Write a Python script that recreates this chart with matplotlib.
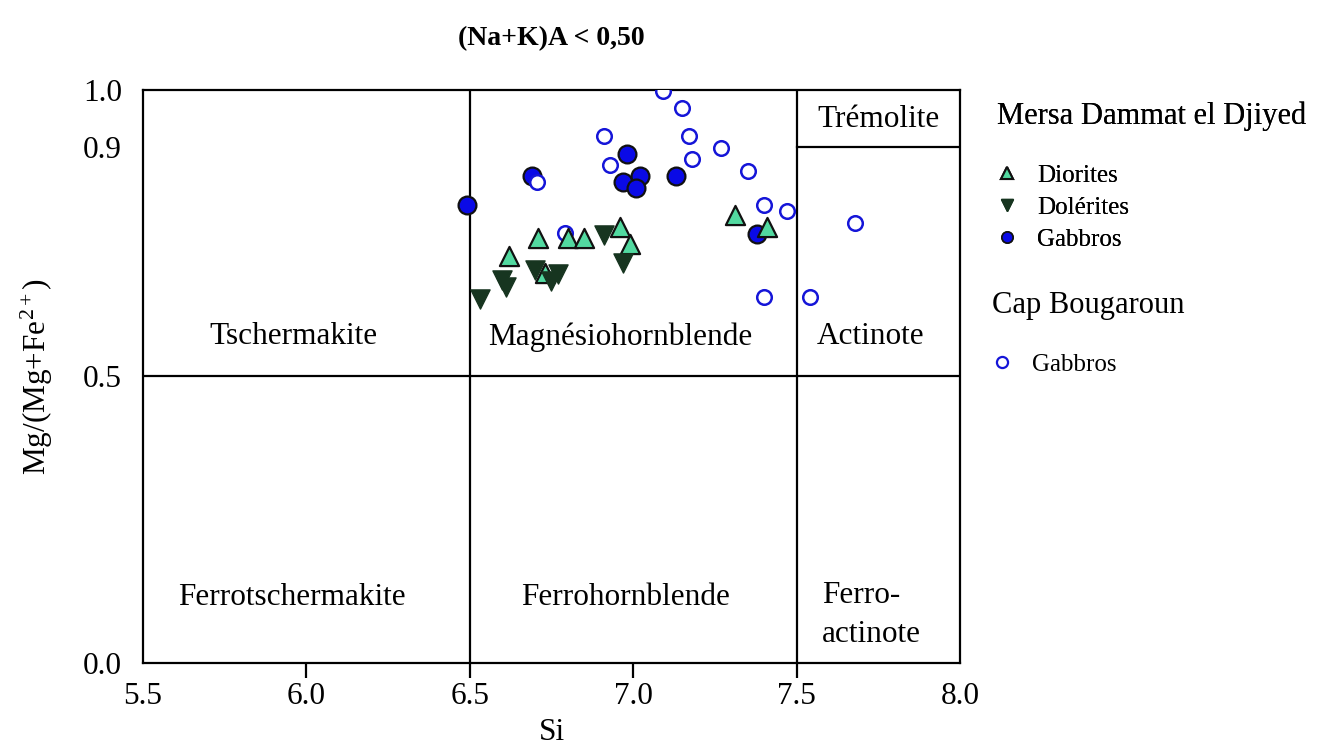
import numpy as np
import matplotlib
matplotlib.use("Agg")
import matplotlib.pyplot as plt
from matplotlib.lines import Line2D

plt.rcParams['font.family'] = ['Liberation Serif', 'DejaVu Serif']
plt.rcParams['mathtext.fontset'] = 'custom'
plt.rcParams['mathtext.rm'] = 'Liberation Serif'
plt.rcParams['mathtext.it'] = 'Liberation Serif:italic'

# Mersa Dammat el Djiyed
dio_si = [6.71, 6.80, 6.85, 6.62, 6.73, 6.96, 6.99, 7.31, 7.41]
dio_mg = [0.741, 0.741, 0.741, 0.710, 0.681, 0.761, 0.731, 0.781, 0.761]

dol_si = [6.53, 6.60, 6.61, 6.70, 6.75, 6.77, 6.91, 6.97]
dol_mg = [0.636, 0.668, 0.657, 0.686, 0.666, 0.678, 0.747, 0.698]

gab_si = [6.49, 6.69, 6.98, 6.97, 7.02, 7.01, 7.13, 7.38]
gab_mg = [0.799, 0.849, 0.889, 0.839, 0.849, 0.829, 0.849, 0.749]

# Cap Bougaroun
cap_si = [7.09, 7.15, 6.91, 7.17, 6.93, 7.18, 6.705, 6.79, 7.27, 7.35,
          7.40, 7.47, 7.68, 7.40, 7.54]
cap_mg = [0.999, 0.969, 0.919, 0.919, 0.869, 0.879, 0.840, 0.750, 0.899, 0.859,
          0.799, 0.789, 0.768, 0.638, 0.638]

x_ticks = [5.5, 6.0, 6.5, 7.0, 7.5, 8.0]
y_ticks = [0.0, 0.5, 0.9, 1.0]

fig = plt.figure(figsize=(13.2, 7.51), dpi=100)
ax = fig.add_axes([0.1083, 0.1172, 0.6190, 0.7630])

lw = 1.6
ax.axvline(6.5, color='black', lw=lw, zorder=1)
ax.axvline(7.5, color='black', lw=lw, zorder=1)
ax.axhline(0.5, color='black', lw=lw, zorder=1)
ax.plot([7.5, 8.0], [0.9, 0.9], color='black', lw=lw, zorder=1)

ax.scatter(cap_si, cap_mg, s=110, facecolors='white', edgecolors='#1515d8',
           linewidths=1.8, zorder=3)
ax.scatter(gab_si, gab_mg, s=165, c='#0a0ae6', edgecolors='#111111',
           linewidths=1.6, zorder=2)
ax.scatter(dio_si, dio_mg, s=190, marker='^', c='#52d9a0', edgecolors='#111111',
           linewidths=1.6, zorder=4)
ax.scatter(dol_si, dol_mg, s=190, marker='v', c='#173520', edgecolors='#173520',
           linewidths=1.0, zorder=4)

fs = 22.5
ax.text(5.96, 0.569, 'Tschermakite', ha='center', va='center', fontsize=fs)
ax.text(6.96, 0.569, 'Magnésiohornblende', ha='center', va='center', fontsize=fs)
ax.text(7.725, 0.569, 'Actinote', ha='center', va='center', fontsize=fs)
ax.text(7.75, 0.948, 'Trémolite', ha='center', va='center', fontsize=fs)
ax.text(5.956, 0.115, 'Ferrotschermakite', ha='center', va='center', fontsize=fs)
ax.text(6.975, 0.115, 'Ferrohornblende', ha='center', va='center', fontsize=fs)
ax.text(7.578, 0.084, 'Ferro-\nactinote', ha='left', va='center', fontsize=fs,
        linespacing=1.45)

ax.set_xlim(5.5, 8.0)
ax.set_ylim(0.0, 1.0)
ax.set_xticks(x_ticks)
ax.set_xticklabels(['%.1f' % v for v in x_ticks])
ax.set_yticks(y_ticks)
ax.set_yticklabels(['%.1f' % v for v in y_ticks])
ax.tick_params(axis='x', direction='out', length=11, width=lw, pad=3, labelsize=fs)
ax.tick_params(axis='y', length=0, pad=15, labelsize=fs)
ax.xaxis.get_major_ticks()[0].tick1line.set_visible(False)
ax.xaxis.get_major_ticks()[-1].tick1line.set_visible(False)
for sp in ax.spines.values():
    sp.set_linewidth(lw)

ax.set_xlabel('Si', fontsize=fs, labelpad=5)
ax.set_ylabel('Mg/(Mg+Fe$^{2+}$)', fontsize=fs, labelpad=20)
ax.set_title('(Na+K)A < 0,50', fontsize=20, fontweight='bold', pad=32)

h1 = [Line2D([], [], ls='none', marker='^', ms=9, mfc='#52d9a0', mec='#111111', mew=1.5),
      Line2D([], [], ls='none', marker='v', ms=9, mfc='#173520', mec='#173520'),
      Line2D([], [], ls='none', marker='o', ms=8, mfc='#0a0ae6', mec='#111111', mew=1.2)]
leg1 = fig.legend(h1, ['Diorites', 'Dolérites', 'Gabbros'],
                  title='Mersa Dammat el Djiyed', title_fontsize=22, fontsize=18,
                  loc='upper left', bbox_to_anchor=(0.748, 0.878), frameon=False,
                  alignment='left', handlelength=0.8, handletextpad=0.8,
                  labelspacing=0.38, borderaxespad=0)
h2 = [Line2D([], [], ls='none', marker='o', ms=8, mfc='white', mec='#1515d8', mew=1.6)]
leg2 = fig.legend(h2, ['Gabbros'], title='Cap Bougaroun', title_fontsize=22,
                  fontsize=18, loc='upper left', bbox_to_anchor=(0.744, 0.626),
                  frameon=False, alignment='left', handlelength=0.8,
                  handletextpad=0.8, borderaxespad=0)
leg2._legend_box.sep = 24
leg1._legend_box.sep = 24
fig.add_artist(leg1)

fig.savefig('out.png', dpi=100)
